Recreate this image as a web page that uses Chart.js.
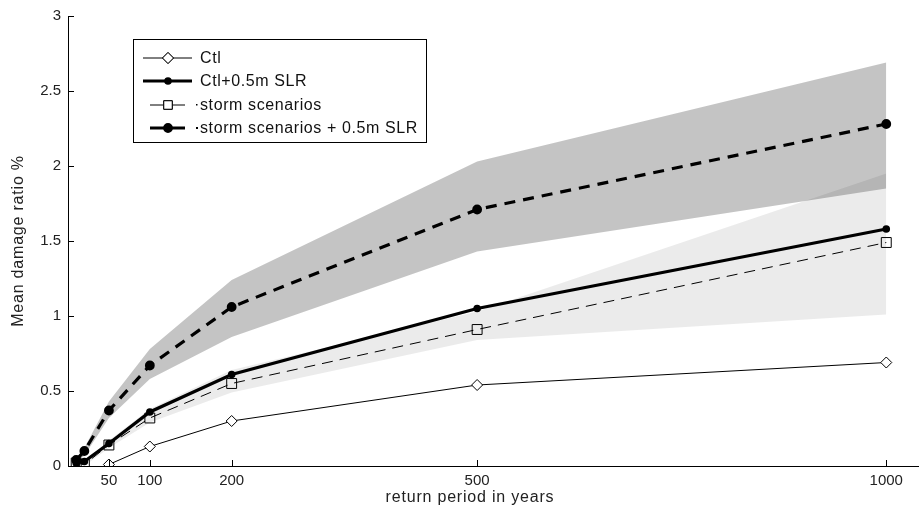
<!DOCTYPE html>
<html>
<head>
<meta charset="utf-8">
<script src="https://cdn.jsdelivr.net/npm/chart.js@4/dist/chart.umd.min.js"></script>
<style>
  html, body { margin: 0; padding: 0; background: #fff; }
  #wrap { width: 919px; height: 514px; position: relative; }
</style>
</head>
<body>
<div id="wrap"><canvas id="c" width="919" height="514"></canvas></div>
<script>
// ---- data ----
const returnPeriods = [10, 20, 50, 100, 200, 500, 1000];
const ctlPeriods = [50, 100, 200, 500, 1000];
const ctl = [0.01, 0.13, 0.30, 0.54, 0.69];
const ctlSLR = [0.02, 0.03, 0.15, 0.36, 0.61, 1.05, 1.58];
const storm = [0.02, 0.01, 0.14, 0.32, 0.55, 0.91, 1.49];
const stormSLR = [0.04, 0.10, 0.37, 0.67, 1.06, 1.71, 2.28];
const stormLow = [0.01, 0.00, 0.12, 0.29, 0.49, 0.84, 1.01];
const stormHigh = [0.03, 0.03, 0.17, 0.38, 0.64, 1.03, 1.95];
const stormSLRLow = [0.02, 0.07, 0.32, 0.58, 0.86, 1.43, 1.85];
const stormSLRHigh = [0.05, 0.12, 0.43, 0.78, 1.24, 2.03, 2.69];
const xTickValues = [50, 100, 200, 500, 1000];
const yTickValues = [0, 0.5, 1, 1.5, 2, 2.5, 3];
const seriesNames = ['Ctl', 'Ctl+0.5m SLR', 'storm scenarios', 'storm scenarios + 0.5m SLR'];
const xTitle = 'return period in years';
const yTitle = 'Mean damage ratio %';

const FONT = '"Liberation Sans", Arial, sans-serif';
const pts = (xs, ys) => xs.map((x, i) => ({ x: x, y: ys[i] }));

const datasets = [
  { label: seriesNames[0], data: pts(ctlPeriods, ctl), borderColor: '#000', borderWidth: 1,
    pointStyle: 'rectRot', pointRadius: 5.5, pointBackgroundColor: '#fff', pointBorderColor: '#000', pointBorderWidth: 1, fill: false },
  { label: seriesNames[1], data: pts(returnPeriods, ctlSLR), borderColor: '#000', borderWidth: 3.2,
    pointStyle: 'circle', pointRadius: 2.2, pointBackgroundColor: '#000', pointBorderColor: '#000', fill: false },
  { label: seriesNames[2], data: pts(returnPeriods, storm), borderColor: '#000', borderWidth: 1, borderDash: [11, 7],
    pointStyle: 'rect', pointRadius: 7, pointBackgroundColor: 'rgba(255,255,255,0)', pointBorderColor: '#000', pointBorderWidth: 1, fill: false },
  { label: seriesNames[3], data: pts(returnPeriods, stormSLR), borderColor: '#000', borderWidth: 3.2, borderDash: [11, 8],
    pointStyle: 'circle', pointRadius: 3.3, pointBackgroundColor: '#000', pointBorderColor: '#000', fill: false },
  { label: 'bandLow1', data: pts(returnPeriods, stormLow), borderWidth: 0, pointRadius: 0, borderColor: 'rgba(0,0,0,0)', fill: false },
  { label: 'bandHigh1', data: pts(returnPeriods, stormHigh), borderWidth: 0, pointRadius: 0, borderColor: 'rgba(0,0,0,0)',
    fill: '-1', backgroundColor: 'rgba(0,0,0,0.08)' },
  { label: 'bandLow2', data: pts(returnPeriods, stormSLRLow), borderWidth: 0, pointRadius: 0, borderColor: 'rgba(0,0,0,0)', fill: false },
  { label: 'bandHigh2', data: pts(returnPeriods, stormSLRHigh), borderWidth: 0, pointRadius: 0, borderColor: 'rgba(0,0,0,0)',
    fill: '-1', backgroundColor: 'rgba(0,0,0,0.23)' }
];

const inwardTicks = {
  id: 'inwardTicks',
  afterDraw(chart) {
    const ctx = chart.ctx, a = chart.chartArea;
    const xs = chart.scales.x, ys = chart.scales.y;
    ctx.save();
    ctx.strokeStyle = '#000';
    ctx.lineWidth = 1;
    ctx.beginPath();
    yTickValues.forEach(v => { const p = Math.round(ys.getPixelForValue(v)) + 0.5; ctx.moveTo(a.left, p); ctx.lineTo(a.left + 6, p); });
    xTickValues.forEach(v => { const p = Math.round(xs.getPixelForValue(v)) + 0.5; ctx.moveTo(p, a.bottom); ctx.lineTo(p, a.bottom - 6); });
    ctx.stroke();
    // axis titles
    ctx.fillStyle = '#222';
    ctx.font = '16px ' + FONT;
    if ('letterSpacing' in ctx) ctx.letterSpacing = '0.8px';
    ctx.textAlign = 'center';
    ctx.textBaseline = 'middle';
    ctx.fillText(xTitle, 470, 498);
    ctx.translate(19, 241);
    ctx.rotate(-Math.PI / 2);
    ctx.fillText(yTitle, 0, 0);
    ctx.restore();
  }
};

const legendBox = {
  id: 'legendBox',
  afterDraw(chart) {
    const ctx = chart.ctx;
    const bx = 133.5, by = 39.5, bw = 293, bh = 103;
    ctx.save();
    ctx.fillStyle = '#fff';
    ctx.fillRect(bx, by, bw, bh);
    ctx.strokeStyle = '#000';
    ctx.lineWidth = 1;
    ctx.strokeRect(bx, by, bw, bh);
    const rows = [58, 81, 105, 128];
    const x0 = 143, x1 = 192, xm = 168;
    ctx.font = '16px ' + FONT;
    ctx.textBaseline = 'middle';
    ctx.textAlign = 'left';
    datasets.slice(0, 4).forEach((d, i) => {
      const y = rows[i];
      ctx.strokeStyle = '#000';
      ctx.lineWidth = d.borderWidth;
      ctx.setLineDash([]);
      ctx.beginPath();
      if (i < 2) { ctx.moveTo(x0, y); ctx.lineTo(x1, y); }
      else { ctx.moveTo(x0 + 7, y); ctx.lineTo(x1 - 7, y); }
      ctx.stroke();
      if (i >= 2) { ctx.fillStyle = '#000'; ctx.fillRect(196, y - 1, i === 3 ? 2 : 1.5, i === 3 ? 2 : 1.5); }
      Chart.helpers.drawPoint(ctx, {
        pointStyle: d.pointStyle, radius: i === 2 ? 6 : d.pointRadius, borderWidth: 1, rotation: 0
      }, xm, y);
      ctx.fillStyle = d.pointBackgroundColor === '#000' ? '#000' : '#fff';
      ctx.strokeStyle = '#000';
      ctx.lineWidth = 1;
      ctx.fill();
      ctx.stroke();
      ctx.fillStyle = '#111';
      if ('letterSpacing' in ctx) ctx.letterSpacing = '0.6px';
      ctx.fillText(d.label, 200, y + 1);
      if ('letterSpacing' in ctx) ctx.letterSpacing = '0px';
    });
    ctx.restore();
  }
};

new Chart(document.getElementById('c'), {
  type: 'line',
  data: { datasets: datasets },
  options: {
    responsive: false,
    animation: false,
    layout: { autoPadding: false, padding: { top: 16, right: 0, left: 0, bottom: 0 } },
    plugins: { legend: { display: false }, tooltip: { enabled: false } },
    elements: { line: { tension: 0 } },
    scales: {
      x: {
        type: 'linear', min: 0, max: 1040,
        afterBuildTicks: s => { s.ticks = xTickValues.map(v => ({ value: v })); },
        afterFit: s => { s.height = 48; s.paddingRight = 0; s.paddingLeft = 0; },
        ticks: { color: '#222', font: { family: FONT, size: 15 }, padding: 6, maxRotation: 0, autoSkip: false, callback: v => String(v) },
        grid: { display: true, drawOnChartArea: false, drawTicks: false },
        border: { display: true, color: '#000', width: 1 },
        title: { display: false }
      },
      y: {
        type: 'linear', min: 0, max: 3,
        afterBuildTicks: s => { s.ticks = yTickValues.map(v => ({ value: v })); },
        afterFit: s => { s.width = 68; s.paddingTop = 0; s.paddingBottom = 0; },
        ticks: { color: '#222', font: { family: FONT, size: 15 }, padding: 7, callback: v => String(v) },
        grid: { display: true, drawOnChartArea: false, drawTicks: false },
        border: { display: true, color: '#000', width: 1 },
        title: { display: false }
      }
    }
  },
  plugins: [inwardTicks, legendBox]
});
</script>
</body>
</html>
